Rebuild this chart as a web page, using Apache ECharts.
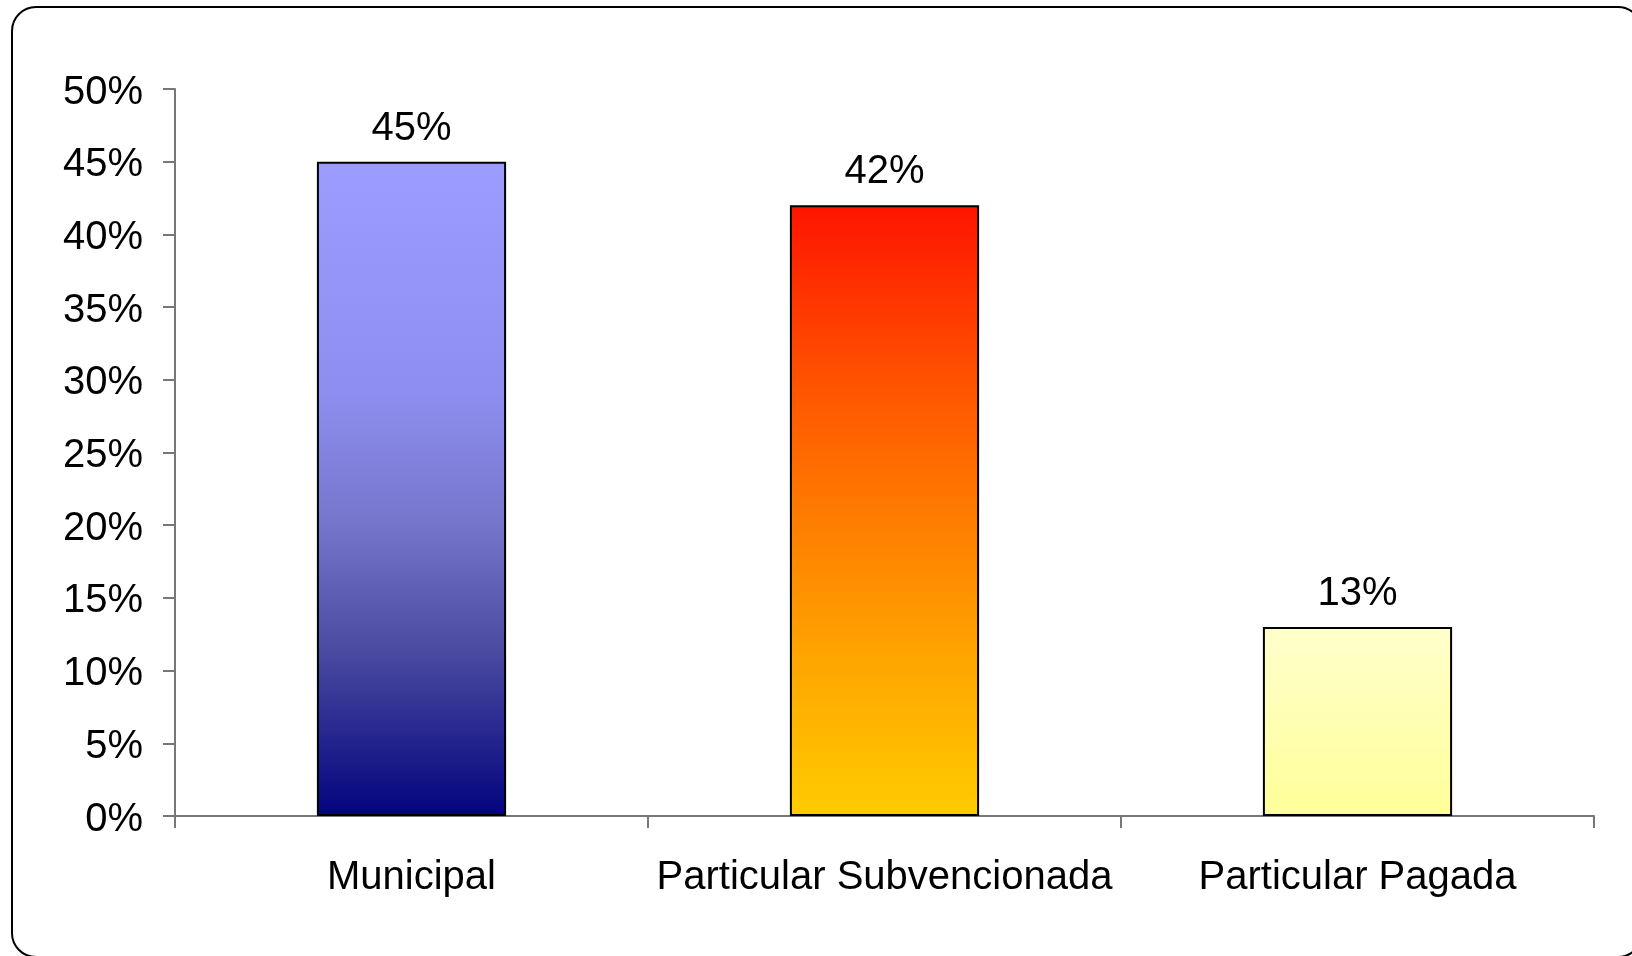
<!DOCTYPE html>
<html>
<head>
<meta charset="utf-8">
<script src="https://cdn.jsdelivr.net/npm/echarts@6/dist/echarts.min.js"></script>
<style>
html,body{margin:0;padding:0;background:#fff;}
#chart{width:1632px;height:956px;}
</style>
</head>
<body>
<div id="chart"></div>
<script>
const categories = ['Municipal', 'Particular Subvencionada', 'Particular Pagada'];
const values = [45, 42, 13];
const yTicks = [0, 5, 10, 15, 20, 25, 30, 35, 40, 45, 50];

const gradients = [
  [[0, '#9C9CFF'], [0.35, '#8E8EF0'], [0.55, '#7676CC'], [0.75, '#4A4AA0'], [1, '#03037E']],
  [[0, '#FF1400'], [0.3, '#FF5500'], [0.5, '#FF7A00'], [0.75, '#FFA600'], [1, '#FFCC00']],
  [[0, '#FFFFCC'], [1, '#FFFF99']]
];

const chart = echarts.init(document.getElementById('chart'), null, {renderer: 'canvas'});
const font = '"Liberation Sans", Arial, sans-serif';

chart.setOption({
  animation: false,
  backgroundColor: '#ffffff',
  graphic: [{
    type: 'rect',
    shape: {x: 12, y: 7, width: 1630, height: 950, r: 24},
    style: {fill: 'none', stroke: '#000', lineWidth: 2},
    z: 0
  }],
  grid: {left: 175, right: 38, top: 89, bottom: 140},
  xAxis: {
    type: 'category',
    data: categories,
    boundaryGap: true,
    axisLine: {lineStyle: {color: '#777', width: 2}},
    axisTick: {show: true, length: 12, alignWithLabel: false, lineStyle: {color: '#777', width: 2}},
    axisLabel: {color: '#000', fontSize: 40, fontFamily: font, margin: 42, interval: 0}
  },
  yAxis: {
    type: 'value',
    min: 0, max: 50, interval: 5,
    splitLine: {show: false},
    axisLine: {show: true, lineStyle: {color: '#777', width: 2}},
    axisTick: {show: true, length: 12, lineStyle: {color: '#777', width: 2}},
    axisLabel: {
      color: '#000', fontSize: 40, fontFamily: font, margin: 32,
      formatter: v => yTicks.includes(v) ? '{a|' + v + '%}' : '',
      rich: {a: {color: '#000', fontSize: 40, fontFamily: font, padding: [7, 0, 0, 0]}}
    }
  },
  series: [{
    type: 'bar',
    barWidth: '40%',
    data: values.map((v, i) => ({
      value: v,
      itemStyle: {
        color: new echarts.graphic.LinearGradient(0, 0, 0, 1,
          gradients[i].map(s => ({offset: s[0], color: s[1]}))),
        borderColor: '#000',
        borderWidth: 2
      }
    })),
    label: {
      show: true, position: 'top', distance: 13,
      color: '#000', fontSize: 40, fontFamily: font,
      formatter: p => p.value + '%'
    }
  }]
});
</script>
</body>
</html>
